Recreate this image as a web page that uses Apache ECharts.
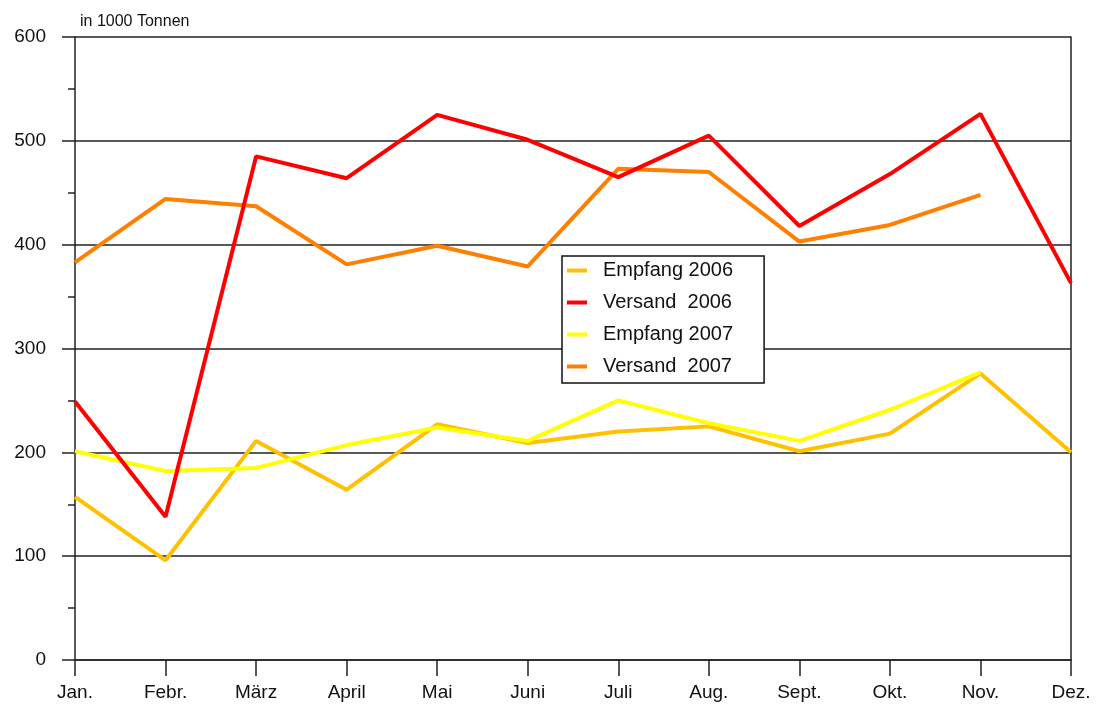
<!DOCTYPE html>
<html>
<head>
<meta charset="utf-8">
<title>Empfang und Versand</title>
<script src="https://cdn.jsdelivr.net/npm/echarts@6.0.0/dist/echarts.min.js"></script>
<style>
  html, body { margin: 0; padding: 0; background: #fff; }
  #main { width: 1096px; height: 707px; }
</style>
</head>
<body>
<div id="main"></div>
<script>
// Monate
var months = ['Jan.', 'Febr.', 'März', 'April', 'Mai', 'Juni', 'Juli', 'Aug.', 'Sept.', 'Okt.', 'Nov.', 'Dez.'];

// Werte in 1000 Tonnen
var empfang2006 = [157, 96, 211, 164, 227, 209, 220, 225, 201, 218, 276, 200];
var versand2006 = [249, 138, 485, 464, 525, 501, 465, 505, 418, 468, 526, 363];
var empfang2007 = [201, 182, 185, 207, 224, 211, 250, 228, 211, 241, 277, null];
var versand2007 = [383, 444, 437, 381, 399, 379, 473, 470, 403, 419, 448, null];

var yTicks = [0, 100, 200, 300, 400, 500, 600];

var myChart = echarts.init(document.getElementById('main'));

function lineSeries(name, data, color, z) {
	return {
		name: name,
		type: 'line',
		data: data,
		symbol: 'none',
		z: z,
		lineStyle: {
			color: color,
			width: 4
		},
		itemStyle: {
			color: color
		}
	};
}

var option = {
	animation: false,
	textStyle: {
		fontFamily: 'Liberation Sans, Arial, sans-serif'
	},
	title: {
		text: 'in 1000 Tonnen',
		left: 75,
		top: 9,
		textStyle: {
			fontSize: 16,
			fontWeight: 'normal',
			color: '#111'
		}
	},
	grid: {
		left: 75,
		right: 25,
		top: 37,
		bottom: 47,
		containLabel: false
	},
	legend: {
		orient: 'vertical',
		left: 562,
		top: 256,
		padding: [4, 31, 6, 5],
		backgroundColor: '#fff',
		borderColor: '#111',
		borderWidth: 1.5,
		itemGap: 11,
		itemWidth: 20,
		itemHeight: 4,
		icon: 'rect',
		data: ['Empfang 2006', 'Versand  2006', 'Empfang 2007', 'Versand  2007'],
		textStyle: {
			fontSize: 20,
			lineHeight: 21,
			color: '#111',
			padding: [0, 0, 0, 11]
		}
	},
	xAxis: {
		type: 'category',
		data: months,
		boundaryGap: false,
		axisLine: {
			lineStyle: { color: '#222', width: 1.5 }
		},
		axisTick: {
			alignWithLabel: true,
			length: 16,
			lineStyle: { color: '#222', width: 1.5 }
		},
		axisLabel: {
			margin: 23,
			fontSize: 19,
			color: '#111'
		}
	},
	yAxis: [{
		type: 'value',
		min: yTicks[0],
		max: yTicks[yTicks.length - 1],
		interval: 100,
		axisLine: {
			show: true,
			lineStyle: { color: '#222', width: 1.5 }
		},
		axisTick: {
			show: true,
			length: 13,
			lineStyle: { color: '#222', width: 1.5 }
		},
		minorTick: {
			show: true,
			splitNumber: 2,
			length: 7,
			lineStyle: { color: '#222', width: 1.5 }
		},
		splitLine: {
			show: true,
			lineStyle: { color: '#222', width: 1.5 }
		},
		axisLabel: {
			margin: 29,
			fontSize: 19,
			color: '#111'
		}
	}, {
		type: 'value',
		position: 'right',
		min: 0,
		max: 600,
		interval: 100,
		axisLine: {
			show: true,
			lineStyle: { color: '#222', width: 1.5 }
		},
		axisTick: { show: false },
		axisLabel: { show: false },
		splitLine: { show: false }
	}],
	series: [
		lineSeries('Empfang 2006', empfang2006, '#FFC000', 2),
		lineSeries('Empfang 2007', empfang2007, '#FFFF00', 3),
		lineSeries('Versand  2007', versand2007, '#FF8000', 4),
		lineSeries('Versand  2006', versand2006, '#FF0000', 5)
	]
};
myChart.setOption(option);
</script>
</body>
</html>
